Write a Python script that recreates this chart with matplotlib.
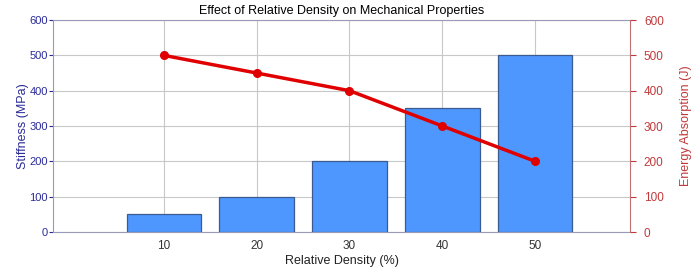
import matplotlib
matplotlib.use("Agg")
import matplotlib.pyplot as plt

plt.rcParams["font.family"] = ["Liberation Sans", "DejaVu Sans"]

density = [10, 20, 30, 40, 50]
stiffness = [50, 100, 200, 350, 500]
energy = [500, 450, 400, 300, 200]

fig = plt.figure(figsize=(7, 2.67), dpi=100)
ax = fig.add_axes([0.076, 0.131, 0.824, 0.794])
ax.bar(density, stiffness, width=8, color="#4d97ff", edgecolor="#3a5a90", linewidth=0.9, zorder=2)
ax.set_xlim(-1.9, 60.2)
ax.set_ylim(0, 600)
ax.set_xticks(density)
ax.set_yticks(range(0, 601, 100))
ax.grid(True, color="#c8c8c8", linestyle="-", linewidth=0.8, zorder=0)
ax.set_axisbelow(True)
ax.tick_params(axis="y", colors="#2a2a9a", labelsize=8, length=3, pad=1)
ax.tick_params(axis="x", colors="#333333", labelsize=8.5, length=0, pad=6)
ax.set_xlabel("Relative Density (%)", fontsize=9, color="#222222", labelpad=2)
ax.set_ylabel("Stiffness (MPa)", fontsize=9, color="#2a2a9a", labelpad=0)
ax.set_title("Effect of Relative Density on Mechanical Properties", fontsize=9, pad=4)
for s in ["left", "bottom", "top"]:
    ax.spines[s].set_color("#9a9ab8")
ax.spines["right"].set_visible(False)

ax2 = ax.twinx()
ax2.plot(density, energy, color="#e00000", linewidth=2.5, marker="o", markersize=5.5, zorder=3)
ax2.set_ylim(0, 600)
ax2.set_yticks(range(0, 601, 100))
ax2.tick_params(axis="y", colors="#c0393b", labelsize=8.5, length=4, pad=6)
ax2.set_ylabel("Energy Absorption (J)", fontsize=9, color="#c0393b", labelpad=12)
ax2.spines["right"].set_color("#c07070")
ax2.spines["left"].set_visible(False)
ax2.spines["top"].set_visible(False)
ax2.spines["bottom"].set_visible(False)

fig.savefig("out.png", dpi=100)
